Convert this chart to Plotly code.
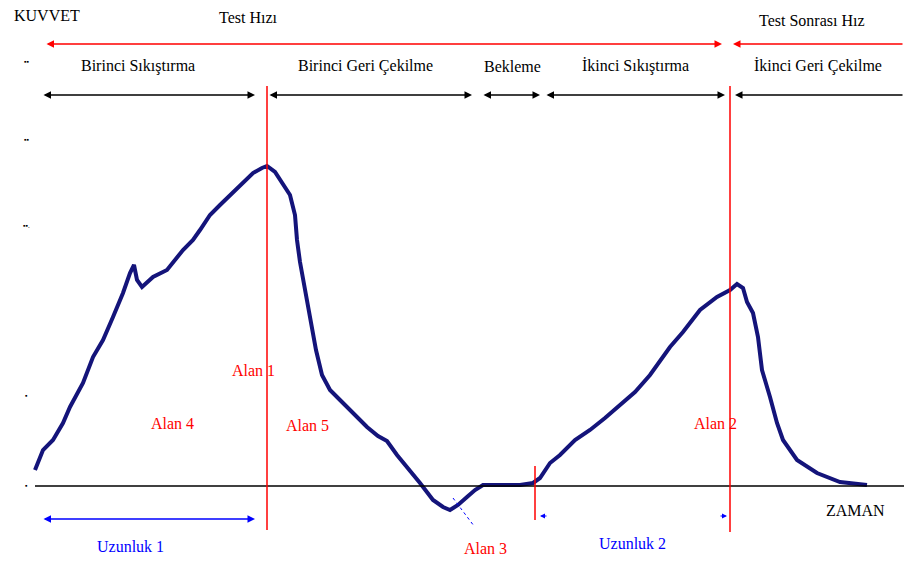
import plotly.graph_objects as go

# Curve data: time (arbitrary units) and force (arbitrary units)
time = [35, 43, 53, 63, 70, 83, 93, 103, 113, 123, 130, 134, 137, 142, 153, 167, 183, 193,
        200, 210, 220, 233, 243, 253, 262, 267, 275, 283, 290, 295, 297, 300, 305, 310, 316, 322, 330, 340,
        353, 367, 378, 387, 397, 407, 420, 433, 443, 450, 458, 467, 475, 483, 495, 510, 520, 533, 540, 550,
        560, 575, 590, 605, 620, 635, 650, 670, 683, 700, 717, 730, 737, 743, 747, 753, 758, 762, 770, 777,
        783, 797, 817, 840, 867]
force = [16, 36, 46, 63, 79, 103, 129, 146, 169, 193, 213, 221, 206, 199, 209, 216, 236, 246,
         256, 271, 281, 294, 303, 313, 318, 320, 314, 301, 291, 271, 246, 224, 196, 166, 136, 111, 96, 86,
         73, 59, 50, 45, 31, 19, 3, -14, -21, -24, -19, -11, -4, 1, 1, 1, 1, 3, 8, 23,
         31, 46, 56, 68, 81, 94, 111, 139, 154, 176, 189, 196, 202, 198, 184, 173, 149, 116, 89, 63,
         46, 26, 13, 4, 1]

phase_labels = ["Birinci Sıkıştırma", "Birinci Geri Çekilme", "Bekleme", "İkinci Sıkıştırma", "İkinci Geri Çekilme"]
phase_start = [42, 268, 482, 545, 735]
phase_end = [255, 472, 540, 725, 904]
phase_label_x = [138, 365, 512, 635, 818]

area_labels = ["Alan 1", "Alan 4", "Alan 5", "Alan 2", "Alan 3"]
area_x = [253, 172, 307, 715, 485]
area_y = [116, 63, 61, 63, -62]

FONT = "Liberation Serif, Times New Roman, serif"
RED = "#ff0000"
BLUE = "#0000ff"
NAVY = "#14147a"
FS = 16

fig = go.Figure()
fig.add_trace(go.Scatter(x=time, y=force, mode="lines",
                         line=dict(color=NAVY, width=4), hoverinfo="skip", showlegend=False))

shapes = []
annotations = []

shapes.append(dict(type="line", x0=35, x1=904, y0=0, y1=0, line=dict(color="black", width=1.5)))
shapes.append(dict(type="line", x0=267, x1=267, y0=-44, y1=400, line=dict(color=RED, width=1.5)))
shapes.append(dict(type="line", x0=730, x1=730, y0=-46, y1=400, line=dict(color=RED, width=1.5)))
shapes.append(dict(type="line", x0=535, x1=535, y0=-34, y1=20, line=dict(color=RED, width=1.5)))
shapes.append(dict(type="line", x0=453, x1=474, y0=-12, y1=-40, line=dict(color=BLUE, width=1, dash="dot")))

def arrow(x0, x1, y, color, both=True, width=1.5):
    annotations.append(dict(x=x1, y=y, ax=x0, ay=y, xref="x", yref="y", axref="x", ayref="y",
                            text="", showarrow=True, arrowhead=2, arrowsize=1, arrowwidth=width,
                            arrowcolor=color, arrowside="end+start" if both else "end"))

arrow(45, 722, 442, RED)
arrow(904, 733, 442, RED, both=False)
for s, e in zip(phase_start, phase_end):
    if e >= 900:
        arrow(e, s, 391, "black", both=False)
    else:
        arrow(s, e, 391, "black")
arrow(42, 255, -33, BLUE)
arrow(548, 540, -30, BLUE, both=False, width=1)
arrow(719, 727, -30, BLUE, both=False, width=1)

def text(x, y, s, color="black", size=FS, anchor="center"):
    annotations.append(dict(x=x, y=y, xref="x", yref="y", text=s, showarrow=False,
                            font=dict(family=FONT, size=size, color=color), xanchor=anchor, yanchor="middle"))

text(12, 471, "KUVVET", anchor="left")
text(248, 469, "Test Hızı")
text(812, 466, "Test Sonrası Hız")
for lbl, lx in zip(phase_labels, phase_label_x):
    text(lx, 420, lbl)
for lbl, ax_, ay_ in zip(area_labels, area_x, area_y):
    text(ax_, ay_, lbl, color=RED)
text(130, -60, "Uzunluk 1", color=BLUE)
text(632, -57, "Uzunluk 2", color=BLUE)
text(855, -24, "ZAMAN")

for ty, tl in zip([424, 346, 260, 90, 0], ["▪▪", "▪▪", "▪▪.", "▪", "▪"]):
    text(26, ty, tl, size=7, anchor="center")

fig.update_layout(width=904, height=561, margin=dict(l=0, r=0, t=0, b=0),
                  plot_bgcolor="white", paper_bgcolor="white", showlegend=False,
                  shapes=shapes, annotations=annotations,
                  xaxis=dict(range=[0, 904], visible=False, fixedrange=True),
                  yaxis=dict(range=[-75, 486], visible=False, fixedrange=True))
fig.write_html("out.html")
